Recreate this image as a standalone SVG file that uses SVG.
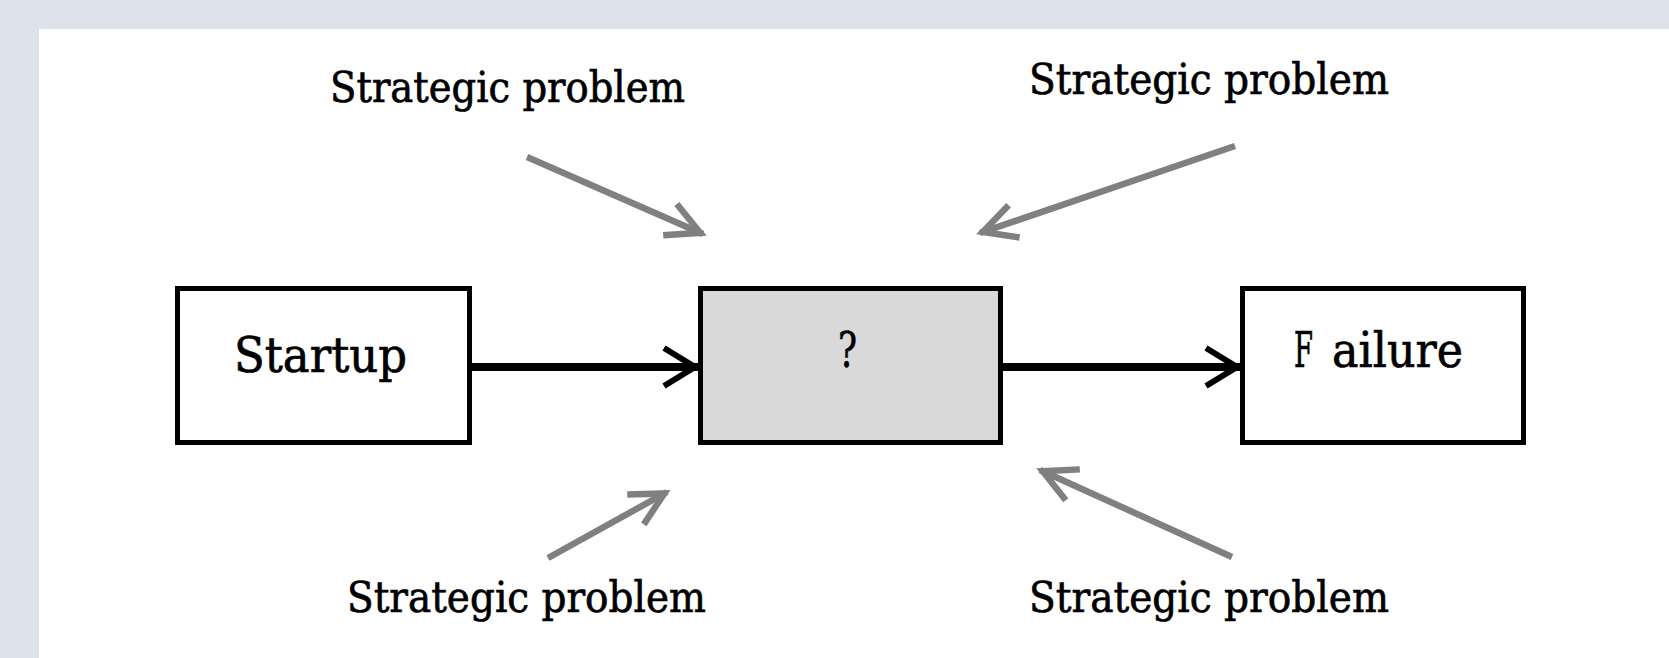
<svg xmlns="http://www.w3.org/2000/svg" width="1669" height="658" viewBox="0 0 1669 658">
  <style>
    .lbl { font-family: "DejaVu Serif", "Liberation Serif", serif; font-size: 43px; fill: #000; stroke: #000; stroke-width: 0.7; }
    .big { font-family: "DejaVu Serif", "Liberation Serif", serif; font-size: 48px; fill: #000; stroke: #000; stroke-width: 0.7; }
    .box { stroke: #000; stroke-width: 5; fill: #fff; }
    .mid { fill: #d9d9d9; }
    .main { stroke: #000; stroke-width: 8; fill: none; }
    .side { stroke: #808080; stroke-width: 6.5; fill: none; }
  </style>
  <defs>
    <marker id="ahBlack" markerUnits="userSpaceOnUse" viewBox="-45 -30 50 60" markerWidth="50" markerHeight="60" refX="0" refY="0" orient="auto">
      <path d="M-34,-19 L-3,0 L-34,19" fill="none" stroke="#000" stroke-width="6"/>
    </marker>
    <marker id="ahGray" markerUnits="userSpaceOnUse" viewBox="-45 -30 50 60" markerWidth="50" markerHeight="60" refX="0" refY="0" orient="auto">
      <path d="M-36,-17 L-3,0 L-36,17" fill="none" stroke="#808080" stroke-width="6.5"/>
    </marker>
  </defs>

  <rect x="0" y="0" width="1669" height="658" fill="#dee2ea"/>
  <rect x="39" y="29" width="1630" height="629" fill="#ffffff"/>

  <g id="connectors">
    <line class="main" x1="472" y1="367" x2="698" y2="367" marker-end="url(#ahBlack)"/>
    <line class="main" x1="1003" y1="367" x2="1240" y2="367" marker-end="url(#ahBlack)"/>
    <line class="side" x1="527" y1="157" x2="703" y2="234" marker-end="url(#ahGray)"/>
    <line class="side" x1="1235" y1="146" x2="980" y2="233" marker-end="url(#ahGray)"/>
    <line class="side" x1="548" y1="558" x2="667" y2="492" marker-end="url(#ahGray)"/>
    <line class="side" x1="1232" y1="557" x2="1040" y2="470" marker-end="url(#ahGray)"/>
  </g>

  <g id="startup">
    <rect class="box" x="177.5" y="288.5" width="292" height="154"/>
    <text class="big" x="234" y="372" textLength="173" lengthAdjust="spacingAndGlyphs">Startup</text>
  </g>

  <g id="unknown">
    <rect class="box mid" x="700.5" y="288.5" width="300" height="154"/>
    <text class="big" x="838" y="367" font-size="54" textLength="19" lengthAdjust="spacingAndGlyphs">?</text>
  </g>

  <g id="failure">
    <rect class="box" x="1242.5" y="288.5" width="281" height="154"/>
    <text class="big" y="367"><tspan x="1294" textLength="19" lengthAdjust="spacingAndGlyphs">F</tspan><tspan x="1332" textLength="131" lengthAdjust="spacingAndGlyphs">ailure</tspan></text>
  </g>

  <g id="label-top-left">
    <text class="lbl" x="330" y="102" textLength="355" lengthAdjust="spacingAndGlyphs">Strategic problem</text>
  </g>
  <g id="label-top-right">
    <text class="lbl" x="1029" y="94" textLength="360" lengthAdjust="spacingAndGlyphs">Strategic problem</text>
  </g>
  <g id="label-bottom-left">
    <text class="lbl" x="347" y="612" textLength="359" lengthAdjust="spacingAndGlyphs">Strategic problem</text>
  </g>
  <g id="label-bottom-right">
    <text class="lbl" x="1029" y="612" textLength="360" lengthAdjust="spacingAndGlyphs">Strategic problem</text>
  </g>
</svg>
